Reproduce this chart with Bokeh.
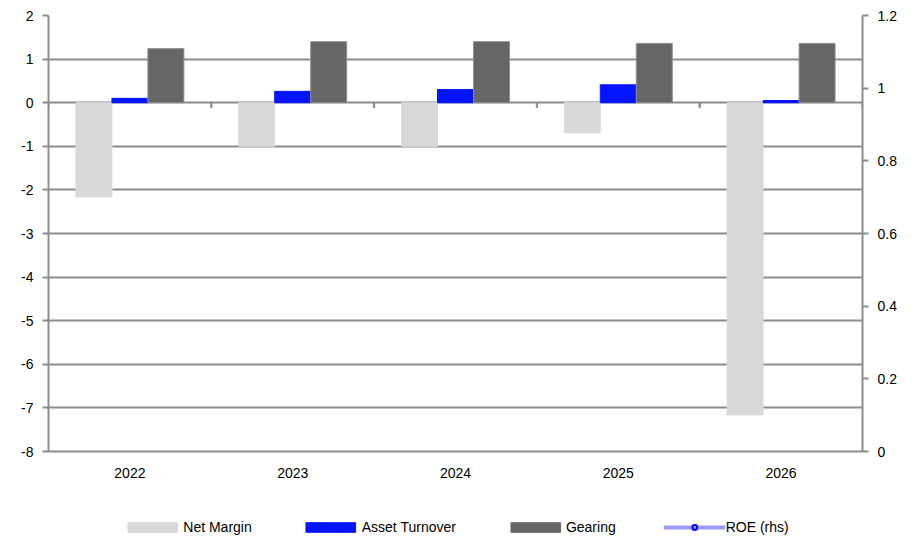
from bokeh.plotting import figure
from bokeh.layouts import column
from bokeh.models import (Range1d, LinearAxis, Legend, LegendItem, NumeralTickFormatter,
                          FixedTicker, FactorRange, ColumnDataSource)
from bokeh.transform import dodge
from bokeh.embed import file_html
from bokeh.resources import INLINE

years = ["2022", "2023", "2024", "2025", "2026"]
net_margin = [-2.16, -1.00, -1.00, -0.69, -7.16]
asset_turnover = [0.10, 0.26, 0.30, 0.41, 0.05]
gearing = [1.24, 1.40, 1.40, 1.36, 1.36]
roe = [-0.27, -0.36, -0.42, -0.38, -0.49]
left_ticks = [-8, -7, -6, -5, -4, -3, -2, -1, 0, 1, 2]
right_ticks = [0, 0.2, 0.4, 0.6, 0.8, 1.0, 1.2]
series_names = ["Net Margin", "Asset Turnover", "Gearing", "ROE (rhs)"]

GRAY = "#8c8c8c"
FONT = "Liberation Sans"
BW = 0.221
C_NM, C_AT, C_G, C_ROE, C_ROE_M = "#d9d9d9", "#0514ff", "#666666", "#9999ff", "#0000ff"

src = ColumnDataSource(dict(x=years, nm=net_margin, at=asset_turnover, g=gearing, roe=roe,
                            zero=[0] * len(years), tick=[-0.115] * len(years)))

p = figure(width=908, height=490, x_range=FactorRange(*years, range_padding=0),
           y_range=Range1d(left_ticks[0], left_ticks[-1]),
           output_backend="svg", toolbar_location=None,
           min_border_left=48, min_border_right=46, min_border_top=15, min_border_bottom=39)
p.outline_line_color = None
p.background_fill_color = "white"
p.border_fill_color = "white"

p.extra_y_ranges = {"roe": Range1d(right_ticks[0], right_ticks[-1])}

# grid
p.xgrid.grid_line_color = None
p.ygrid.ticker = FixedTicker(ticks=left_ticks)
p.ygrid.grid_line_color = GRAY
p.ygrid.grid_line_width = 2

# bars
p.vbar(x=dodge("x", -BW, range=p.x_range), top="nm", width=BW, source=src,
       fill_color=C_NM, line_color=C_NM)
p.vbar(x=dodge("x", 0, range=p.x_range), top="at", width=BW, source=src,
       fill_color=C_AT, line_color=C_AT)
p.vbar(x=dodge("x", BW, range=p.x_range), top="g", width=BW, source=src,
       fill_color=C_G, line_color="#8f8f8f")

# category boundary ticks on the zero line
p.segment(x0=dodge("x", -0.5, range=p.x_range), y0="zero", x1=dodge("x", -0.5, range=p.x_range),
          y1="tick", source=src, line_color=GRAY, line_width=2)
p.segment(x0=dodge("x", 0.5, range=p.x_range), y0="zero", x1=dodge("x", 0.5, range=p.x_range),
          y1="tick", source=src, line_color=GRAY, line_width=2)

# ROE line on rhs (values fall below the rhs range, so they are clipped as in the original)
p.line(x="x", y="roe", source=src, y_range_name="roe", line_color=C_ROE, line_width=4)
p.scatter(x="x", y="roe", source=src, y_range_name="roe", marker="circle", size=8,
          fill_color=C_ROE, line_color=C_ROE_M, line_width=2)

# axes
la = p.yaxis[0]
la.ticker = FixedTicker(ticks=left_ticks)
la.formatter = NumeralTickFormatter(format="0")
ra = LinearAxis(y_range_name="roe", ticker=FixedTicker(ticks=right_ticks),
                formatter=NumeralTickFormatter(format="0.[0]"))
p.add_layout(ra, "right")
for ax in (la, ra):
    ax.axis_line_color = GRAY
    ax.axis_line_width = 2
    ax.major_tick_line_color = GRAY
    ax.major_tick_line_width = 2
    ax.major_tick_in = 0
    ax.major_tick_out = 6
    ax.minor_tick_line_color = None
    ax.major_label_text_font = FONT
    ax.major_label_text_font_size = "14px"
    ax.major_label_text_color = "black"
    ax.major_label_standoff = 9

xa = p.xaxis[0]
xa.axis_line_color = GRAY
xa.axis_line_width = 2
xa.major_tick_line_color = None
xa.minor_tick_line_color = None
xa.major_label_text_font = FONT
xa.major_label_text_font_size = "14px"
xa.major_label_text_color = "black"
xa.major_label_standoff = 10

# legend strip below the chart (legend-only renderers hold no visible data)
lf = figure(width=908, height=46, x_range=Range1d(0, 1), y_range=Range1d(0, 1),
            output_backend="svg", toolbar_location=None,
            min_border_left=0, min_border_right=0, min_border_top=0, min_border_bottom=0)
lf.axis.visible = False
lf.grid.visible = False
lf.outline_line_color = None
nan = float("nan")
empty = ColumnDataSource(dict(x=[nan], y=[nan]))
l_nm = lf.vbar(x="x", top="y", width=0.1, source=empty, fill_color=C_NM, line_color=C_NM)
l_at = lf.vbar(x="x", top="y", width=0.1, source=empty, fill_color=C_AT, line_color=C_AT)
l_g = lf.vbar(x="x", top="y", width=0.1, source=empty, fill_color=C_G, line_color=C_G)
l_rl = lf.line(x="x", y="y", source=empty, line_color=C_ROE, line_width=4)
l_rc = lf.scatter(x="x", y="y", source=empty, marker="circle", size=8,
                  fill_color=C_ROE, line_color=C_ROE_M, line_width=2)

legend = Legend(items=[
    LegendItem(label=series_names[0], renderers=[l_nm]),
    LegendItem(label=series_names[1], renderers=[l_at]),
    LegendItem(label=series_names[2], renderers=[l_g]),
    LegendItem(label=series_names[3], renderers=[l_rl, l_rc]),
], orientation="horizontal", location="bottom_center")
legend.border_line_color = None
legend.background_fill_alpha = 0
legend.padding = 0
legend.margin = 1
legend.spacing = 48
legend.glyph_width = 62
legend.glyph_height = 12
legend.label_height = 14
legend.label_standoff = 0
legend.label_text_font = FONT
legend.label_text_font_size = "14px"
legend.label_text_color = "black"
lf.add_layout(legend, "center")

layout = column(p, lf, spacing=0)
open("out.html", "w").write(file_html(layout, INLINE))
